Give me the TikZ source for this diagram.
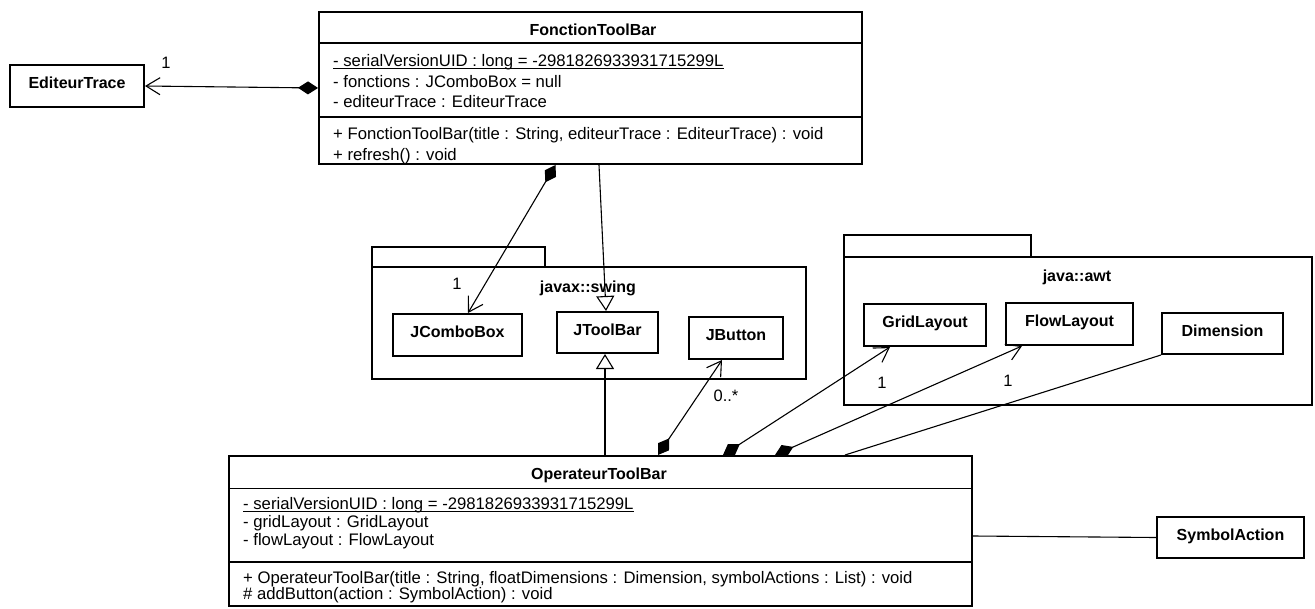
\documentclass[tikz,border=0pt]{standalone}
\usepackage{fontspec}
\setmainfont{Liberation Sans}
\usetikzlibrary{arrows.meta}
\begin{document}
\begin{tikzpicture}[x=1pt,y=-1pt,
  classbox/.style={draw, line width=2pt, rectangle, inner sep=0pt, fill=white,
    font=\fontsize{16}{19}\selectfont\bfseries, text height=11.5pt, text depth=6pt},
  bigclass/.style={draw, line width=2pt, rectangle, inner sep=0pt, fill=white},
  divider/.style={line width=1.5pt},
  member/.style={anchor=base west, inner sep=0pt, font=\fontsize{16.7}{20}\selectfont},
  classname/.style={anchor=base, inner sep=0pt, font=\fontsize{16}{19}\selectfont\bfseries},
  mult/.style={inner sep=0pt, font=\fontsize{16.5}{20}\selectfont},
  pkg/.style={line width=2pt},
  assoc/.style={line width=1.1pt},
  composition/.style={assoc, {Diamond[length=20pt,width=13pt]}-{Straight Barb[length=14pt,width=17pt]}},
  generalization/.style={assoc, -{Triangle[open,length=15pt,width=18pt,fill=white]}},
]
\useasboundingbox (0,0) rectangle (1315,608);
\fill[white] (0,0) rectangle (1315,608);

% packages
\draw[pkg] (372,247) rectangle (545,267);
\draw[pkg] (372,267) rectangle (806,379);
\node[classname] (swinglbl) at (588,292.7) {javax::swing};
\draw[pkg] (844,235) rectangle (1031,257);
\draw[pkg] (844,257) rectangle (1312,405);
\node[classname] (awtlbl) at (1077,281.7) {java::awt};

% FonctionToolBar
\node[bigclass, minimum width=543pt, minimum height=152pt] (ft) at (590.5,88) {};
\draw[divider] (319,43) -- (862,43);
\draw[divider] (319,117) -- (862,117);
\node[classname] (ftname) at (593,35) {FonctionToolBar};
\node[member] (ftserial) at (333,66.5) {- serialVersionUID : long = -2981826933931715299L};
\draw[line width=1pt] ([yshift=-2pt]ftserial.base west) -- ([yshift=-2pt]ftserial.base east);
\node[member] (ftfonc) at (333,87) {- fonctions : JComboBox = null};
\node[member] (ftedit) at (333,107) {- editeurTrace : EditeurTrace};
\node[member] (ftctor) at (333,139) {+ FonctionToolBar(title : String, editeurTrace : EditeurTrace) : void};
\node[member] (ftrefresh) at (333,160) {+ refresh() : void};

% OperateurToolBar
\node[bigclass, minimum width=743pt, minimum height=150pt] (op) at (600.5,531) {};
\draw[divider] (229,488.5) -- (972,488.5);
\draw[divider] (229,562) -- (972,562);
\node[classname] (opname) at (599,479) {OperateurToolBar};
\node[member] (opserial) at (243,509) {- serialVersionUID : long = -2981826933931715299L};
\draw[line width=1pt] ([yshift=-2pt]opserial.base west) -- ([yshift=-2pt]opserial.base east);
\node[member] (opgrid) at (243,527.5) {- gridLayout : GridLayout};
\node[member] (opflow) at (243,545.5) {- flowLayout : FlowLayout};
\node[member] (opctor) at (243,583.5) {+ OperateurToolBar(title : String, floatDimensions : Dimension, symbolActions : List) : void};
\node[member] (opadd) at (243,599.5) {\# addButton(action : SymbolAction) : void};

% simple classes
\node[classbox, minimum width=134pt, minimum height=42pt] (et) at (77,86) {EditeurTrace};
\node[classbox, minimum width=147pt, minimum height=41pt] (sa) at (1230.5,537.5) {SymbolAction};
\node[classbox, minimum width=129pt, minimum height=42pt] (jcb) at (457.5,335) {JComboBox};
\node[classbox, minimum width=101pt, minimum height=41pt] (jtb) at (607.5,332.5) {JToolBar};
\node[classbox, minimum width=94pt, minimum height=42pt] (jbt) at (736,338) {JButton};
\node[classbox, minimum width=122pt, minimum height=42pt] (gl) at (925,325) {GridLayout};
\node[classbox, minimum width=127pt, minimum height=42pt] (fl) at (1069.5,324) {FlowLayout};
\node[classbox, minimum width=121pt, minimum height=41pt] (dim) at (1222.5,333.5) {Dimension};

% connectors
\draw[composition] (ft.west) -- (et.east);
\node[mult] (m1) at (166,63) {1};
\draw[composition] ([xshift=-35pt]ft.south) -- ([xshift=10.5pt]jcb.north);
\node[mult] (m2) at (457,284) {1};
\draw[generalization] ([xshift=8.5pt]ft.south) -- ([xshift=-1.5pt]jtb.north);
\draw[generalization] ([xshift=4.5pt]op.north) -- ([xshift=-2.5pt]jtb.south);
\draw[composition] ([xshift=57.5pt]op.north) -- ([xshift=-14pt]jbt.south);
\node[mult] (m3) at (726,396) {0..*};
\draw[composition] ([xshift=122.5pt]op.north) -- ([xshift=-35pt]gl.south);
\node[mult] (m4) at (882,383) {1};
\draw[composition] ([xshift=174.5pt]op.north) -- ([xshift=-47.5pt]fl.south);
\node[mult] (m5) at (1008,381) {1};
\draw[assoc] ([xshift=244.5pt]op.north) -- (dim.south west);
\draw[assoc] ([yshift=-5pt]op.east) -- (sa.west);
\end{tikzpicture}
\end{document}
